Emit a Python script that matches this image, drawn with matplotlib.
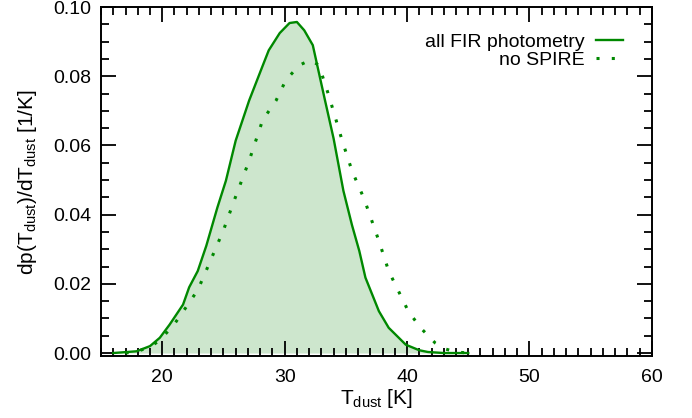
import numpy as np
import matplotlib
matplotlib.use("Agg")
import matplotlib.pyplot as plt
from matplotlib.ticker import MultipleLocator, FormatStrFormatter

plt.rcParams["font.family"] = ["Liberation Sans", "DejaVu Sans"]
plt.rcParams["mathtext.default"] = "regular"

# posterior of dust temperature, all FIR photometry
t_all = [16.0, 17.9, 19.0, 19.8, 20.6, 21.7, 22.2, 22.9, 23.6, 24.5, 25.2, 26.0,
         27.1, 28.2, 28.7, 29.6, 30.4, 31.0, 31.6, 32.3, 33.3, 34.0, 34.8, 35.5, 36.1,
         36.6, 37.7, 38.5, 39.9, 41.0, 41.7, 43.0, 45.0]
p_all = [0.0, 0.0005, 0.002, 0.0044, 0.0082, 0.014, 0.019, 0.0237, 0.031, 0.042,
         0.0498, 0.0614, 0.073, 0.083, 0.0875, 0.0925, 0.0954, 0.0957, 0.0933, 0.089,
         0.073, 0.062, 0.0469, 0.037, 0.0295, 0.0218, 0.0121, 0.0073, 0.0024, 0.0008,
         0.0003, 0.0, 0.0]

# without SPIRE
t_nos = [17.0, 18.0, 19.0, 19.7, 20.9, 21.9, 22.9, 23.6, 24.3, 25.0, 25.9, 27.1,
         28.2, 29.3, 30.1, 31.2, 32.1, 32.8, 33.6, 34.7, 35.5, 36.5, 37.7, 38.5, 39.3,
         40.1, 41.1, 42.3, 43.1, 44.0, 45.0]
p_nos = [0.0, 0.0005, 0.0018, 0.0034, 0.0079, 0.013, 0.0182, 0.0239, 0.0297,
         0.0355, 0.0443, 0.0556, 0.0673, 0.073, 0.0789, 0.0832, 0.0847, 0.0832, 0.0745,
         0.0614, 0.0527, 0.0445, 0.0324, 0.0237, 0.0179, 0.0121, 0.0073, 0.0029, 0.0012,
         0.0003, 0.0]

green = "#008800"

fig = plt.figure(figsize=(6.92, 4.18), dpi=100)
ax = fig.add_axes([0.146, 0.148, 0.796, 0.835])

ax.fill_between(t_all, 0, p_all, color="#cde6cd", lw=0)
ax.plot(t_all, p_all, color=green, lw=1.7, label="all FIR photometry")
ax.plot(t_nos, p_nos, color=green, lw=2.2, ls=(0, (1, 4)), label="no SPIRE")

ax.set_xlim(15, 60)
ax.set_ylim(-0.0009, 0.1)
ax.xaxis.set_major_locator(MultipleLocator(10))
ax.xaxis.set_minor_locator(MultipleLocator(1))
ax.yaxis.set_major_locator(MultipleLocator(0.02))
ax.yaxis.set_minor_locator(MultipleLocator(0.005))
ax.yaxis.set_major_formatter(FormatStrFormatter("%.2f"))
ax.tick_params(which="both", direction="in", top=True, right=True, width=1.3,
               labelsize=14, colors="black")
ax.tick_params(which="major", length=11, pad=9)
ax.tick_params(which="minor", length=5.5)
ax.tick_params(axis="y", which="major", pad=7)
for s in ax.spines.values():
    s.set_linewidth(1.4)

ax.set_xlabel("T$_{dust}$ [K]", fontsize=15, labelpad=1)
ax.set_ylabel("dp(T$_{dust}$)/dT$_{dust}$ [1/K]", fontsize=15, labelpad=10)

leg = ax.legend(loc="upper right", bbox_to_anchor=(0.948, 0.925), frameon=False,
                fontsize=14, markerfirst=False, handlelength=1.4, handletextpad=0.6,
                labelspacing=0.0, borderaxespad=0, borderpad=0)
for t in leg.get_texts():
    t.set_ha("right")
leg._legend_box.align = "right"

fig.savefig("out.png", dpi=100)
